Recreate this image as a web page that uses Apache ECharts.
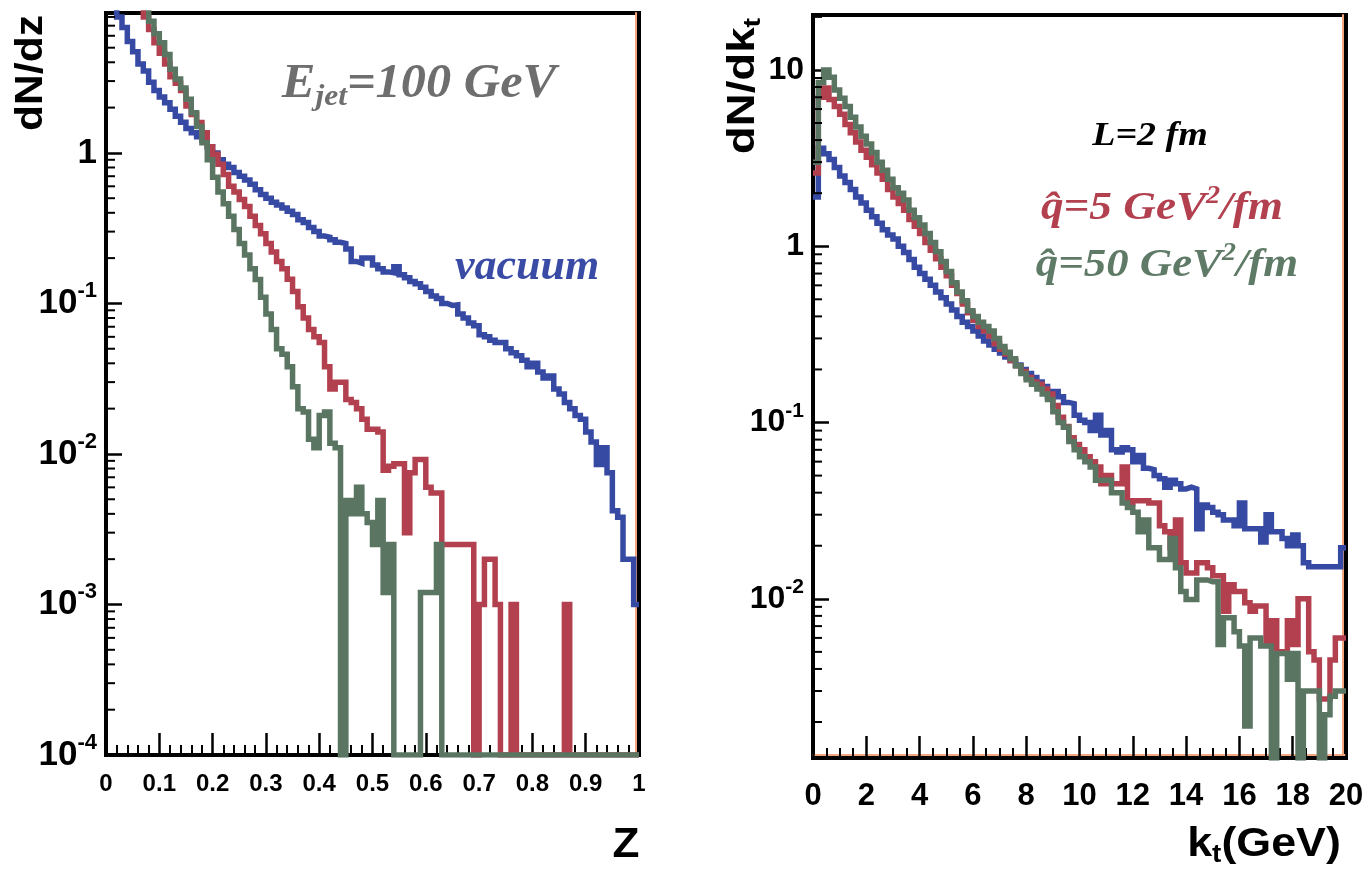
<!DOCTYPE html>
<html><head><meta charset="utf-8">
<script src="https://cdn.jsdelivr.net/npm/echarts@6/dist/echarts.min.js"></script>
<style>html,body{margin:0;padding:0;background:#fff}#c{width:1370px;height:870px}</style>
</head><body><div id="c"></div>
<script>
// ---------- data: left panel, dN/dz vs z (100 bins of 0.01) ----------
const zBinLo = 0;
const zBinWidth = 0.01;
const zVacuum = [20,12,8.0,6.8,5.5,4.7,3.9,3.5,2.95,2.6,
  2.35,2.15,1.95,1.75,1.6,1.45,1.36,1.28,1.22,1.1,
  1.0,0.9,0.84,0.8,0.74,0.7,0.66,0.62,0.57,0.53,
  0.5,0.47,0.45,0.43,0.41,0.39,0.36,0.345,0.32,0.3,
  0.28,0.275,0.265,0.255,0.25,0.23,0.19,0.185,0.2,0.2,
  0.18,0.17,0.162,0.16,0.175,0.155,0.148,0.14,0.135,0.128,
  0.12,0.112,0.108,0.1,0.097,0.098,0.085,0.08,0.074,0.071,
  0.062,0.06,0.057,0.055,0.055,0.05,0.047,0.045,0.042,0.038,
  0.04,0.035,0.032,0.033,0.027,0.025,0.022,0.02,0.018,0.017,
  0.014,0.012,0.0085,0.011,0.0075,0.0042,0.0038,0.002,0.002,0.001];
const zQhat5 = [40,30,22,17,14,11.5,9.5,8.0,6.6,5.4,
  4.6,3.9,3.2,2.9,2.6,2.05,1.8,1.59,1.36,1.1,
  0.98,0.84,0.72,0.6,0.55,0.49,0.44,0.38,0.33,0.29,
  0.25,0.22,0.19,0.17,0.145,0.12,0.095,0.08,0.067,0.06,
  0.055,0.038,0.027,0.03,0.03,0.023,0.022,0.02,0.017,0.0146,
  0.0146,0.014,0.0078,0.0083,0.0086,0.0086,0.003,0.0075,0.0092,0.0092,
  0.006,0.0055,0.0055,0.0025,0.0025,0.0025,0.0025,0.0025,0.0025,0,
  0.001,0.002,0.002,0.001,0,0,0.001,0,0,0,
  0,0,0,0,0,0,0.001,0,0,0,
  0,0,0,0,0,0,0,0,0,0];
const zQhat50 = [50,35,25,19,15,12.5,11,9.5,7.5,6.2,
  5.4,4.5,3.6,3.1,2.7,2.27,1.85,1.5,1.17,0.9,
  0.69,0.55,0.46,0.38,0.31,0.25,0.21,0.17,0.144,0.11,
  0.085,0.067,0.05,0.046,0.038,0.028,0.02,0.019,0.0125,0.011,
  0.018,0.019,0.0118,0.011,0,0.0049,0.004,0.006,0.004,0.0035,
  0.0025,0.0049,0.0012,0.0025,0,0,0,0,0,0.0012,
  0.0012,0.0012,0.0025,0,0,0,0,0,0,0,
  0,0,0,0,0,0,0,0,0,0,
  0,0,0,0,0,0,0,0,0,0,
  0,0,0,0,0,0,0,0,0,0];

// ---------- data: right panel, dN/dkt vs kt (100 bins of 0.2 GeV) ----------
const ktBinLo = 0;
const ktBinWidth = 0.2;
const ktVacuum = [1.9,3.6,3.35,3.1,2.8,2.5,2.3,2.1,1.9,1.76,
  1.6,1.47,1.35,1.24,1.16,1.1,1.0,0.92,0.84,0.76,
  0.7,0.65,0.6,0.55,0.51,0.47,0.435,0.4,0.37,0.35,
  0.33,0.31,0.29,0.275,0.26,0.248,0.235,0.225,0.212,0.2,
  0.19,0.18,0.17,0.16,0.14,0.15,0.14,0.13,0.128,0.11,
  0.103,0.1,0.09,0.11,0.085,0.09,0.07,0.068,0.072,0.07,
  0.06,0.065,0.055,0.054,0.05,0.048,0.043,0.047,0.045,0.042,
  0.043,0.042,0.025,0.034,0.033,0.031,0.03,0.028,0.028,0.026,
  0.035,0.025,0.025,0.025,0.021,0.03,0.024,0.024,0.022,0.02,
  0.023,0.02,0.016,0.0152,0.0152,0.0152,0.0152,0.0152,0.0152,0.0195];
const ktQhat5 = [2.6,7.0,7.9,6.8,6.2,5.6,4.9,4.4,3.9,3.5,
  3.2,2.9,2.6,2.4,2.1,1.9,1.75,1.6,1.42,1.3,
  1.18,1.05,0.95,0.85,0.76,0.68,0.6,0.54,0.47,0.42,
  0.38,0.35,0.33,0.31,0.28,0.26,0.245,0.225,0.21,0.195,
  0.18,0.17,0.165,0.155,0.145,0.125,0.107,0.095,0.082,0.075,
  0.07,0.064,0.06,0.056,0.045,0.05,0.045,0.045,0.056,0.035,
  0.036,0.036,0.036,0.035,0.035,0.026,0.024,0.0195,0.028,0.016,
  0.014,0.014,0.016,0.016,0.015,0.0135,0.0135,0.0085,0.012,0.011,
  0.011,0.0095,0.0085,0.0091,0.0091,0.0055,0.0075,0.005,0.005,0.0075,
  0.0055,0.01,0.01,0.005,0.0045,0.0027,0.0027,0.0045,0.006,0.006];
const ktQhat50 = [3.0,8.5,10.0,9.1,7.7,6.9,6.2,5.4,4.75,4.2,
  3.8,3.4,3.0,2.7,2.4,2.15,2.0,1.83,1.6,1.45,
  1.32,1.18,1.05,0.93,0.82,0.72,0.62,0.55,0.49,0.43,
  0.4,0.37,0.35,0.33,0.3,0.27,0.25,0.23,0.21,0.19,
  0.175,0.165,0.155,0.145,0.135,0.115,0.1,0.094,0.078,0.07,
  0.064,0.06,0.056,0.047,0.047,0.047,0.04,0.04,0.035,0.033,
  0.031,0.024,0.028,0.0195,0.0195,0.0167,0.0167,0.022,0.015,0.011,
  0.0099,0.0099,0.0128,0.0128,0.0125,0.0125,0.0055,0.0078,0.0078,0.0065,
  0.0054,0.0019,0.006,0.006,0.0054,0.0054,0,0.0049,0.0049,0.0035,
  0.0049,0,0.003,0.003,0.003,0,0.0022,0.0028,0.003,0.003];

// ---------- axis ranges ----------
const zRange = [0, 1];
const zYRange = [1e-4, 8.5];
const ktRange = [0, 20];
const ktYRange = [1.25e-3, 20.5];

const colVac = '#3649a3', colQ5 = '#b3404f', colQ50 = '#5b7563';
const SANS = "'Liberation Sans', Arial, Helvetica, sans-serif";
const SERIF = "'Liberation Serif', 'Times New Roman', serif";

function histPoints(vals, lo, w, floor) {
  const pts = [];
  for (let i = 0; i < vals.length; i++) pts.push([lo + i * w, Math.max(vals[i], floor)]);
  pts.push([lo + vals.length * w, Math.max(vals[vals.length - 1], floor)]);
  return pts;
}
function logMinorTicks(lo, hi) {
  const out = [];
  for (let d = Math.floor(Math.log10(lo)); d <= Math.ceil(Math.log10(hi)); d++) {
    for (let k = 2; k <= 9; k++) {
      const v = k * Math.pow(10, d);
      if (v > lo * 1.0001 && v < hi * 0.9999) out.push(v);
    }
  }
  return out;
}
function logLabel(v) {
  const l = Math.log10(v), e = Math.round(l);
  if (Math.abs(l - e) > 1e-6) return '';
  if (e === 0) return '{b|1}';
  if (e === 1) return '{b|10}';
  return '{b|10}{e|' + e + '}';
}
function stepSeries(name, vals, lo, w, floor, color, xi, yi) {
  return { name, type: 'line', step: 'end', xAxisIndex: xi, yAxisIndex: yi,
    data: histPoints(vals, lo, w, floor), symbol: 'none', showSymbol: false,
    lineStyle: { color, width: 5.5, join: 'miter' }, clip: true, silent: true, animation: false, z: 3 };
}
function minorTickSeries(vals, x0, xi, yi) {
  return { type: 'custom', xAxisIndex: xi, yAxisIndex: yi, silent: true, clip: false, z: 6,
    data: vals.map(v => [x0, v]),
    renderItem: (params, api) => {
      const p = api.coord([api.value(0), api.value(1)]);
      return { type: 'line', shape: { x1: p[0], y1: p[1], x2: p[0] + 9, y2: p[1] },
        style: { stroke: '#000', lineWidth: 2 } };
    } };
}
function yAxisCfg(gi, range, bSize, eSize) {
  return { type: 'log', logBase: 10, gridIndex: gi, min: range[0], max: range[1],
    axisLine: { show: true, onZero: false, lineStyle: { color: '#000', width: 4 } },
    axisTick: { show: true, inside: true, length: 16, lineStyle: { color: '#000', width: 2.5 } },
    splitLine: { show: false }, minorTick: { show: false },
    axisLabel: { margin: 9, formatter: logLabel, color: '#000',
      rich: { b: { fontSize: bSize, fontWeight: 'bold', fontFamily: SANS, color: '#000', lineHeight: bSize + 4 },
              e: { fontSize: eSize, fontWeight: 'bold', fontFamily: SANS, color: '#000', padding: [0, 0, Math.round(bSize * 0.72), 0] } } } };
}
function orangeAxis(gi, pos) {
  return { type: 'value', gridIndex: gi, position: pos, offset: -3, min: 0, max: 1,
    axisLine: { show: true, onZero: false, lineStyle: { color: '#f4a67f', width: 2 } },
    axisTick: { show: false }, axisLabel: { show: false }, splitLine: { show: false } };
}

const chart = echarts.init(document.getElementById('c'));
const serifRich = (size, color) => ({
  m: { fontSize: size, fontFamily: SERIF, fontWeight: 'bold', fontStyle: 'italic', fill: color, lineHeight: size + 16 },
  s: { fontSize: Math.round(size * 0.62), fontFamily: SERIF, fontWeight: 'bold', fontStyle: 'italic', fill: color, padding: [Math.round(size * 0.5), 0, 0, 0] },
  p: { fontSize: Math.round(size * 0.62), fontFamily: SERIF, fontWeight: 'bold', fontStyle: 'italic', fill: color, padding: [0, 0, Math.round(size * 0.62), 0] }
});
const sansRich = (size) => ({
  m: { fontSize: size, fontFamily: SANS, fontWeight: 'bold', fill: '#000', lineHeight: size + 12 },
  s: { fontSize: Math.round(size * 0.62), fontFamily: SANS, fontWeight: 'bold', fill: '#000', padding: [Math.round(size * 0.5), 0, 0, 0] }
});
function txt(x, y, text, rich, scaleX, rotation) {
  return { type: 'text', x, y, rotation: rotation || 0, scaleX: scaleX || 1, silent: true, z: 100,
    style: { text, rich, align: 'center', verticalAlign: 'middle' } };
}

const option = {
  backgroundColor: '#fff',
  animation: false,
  grid: [
    { left: 106, top: 13, width: 533, height: 742, show: true, borderColor: '#000', borderWidth: 4, backgroundColor: 'transparent' },
    { left: 813, top: 15, width: 533, height: 743, show: true, borderColor: '#000', borderWidth: 4, backgroundColor: 'transparent' }
  ],
  xAxis: [
    { type: 'value', gridIndex: 0, min: zRange[0], max: zRange[1], interval: 0.1,
      axisLine: { show: true, onZero: false, lineStyle: { color: '#000', width: 4 } },
      axisTick: { show: true, inside: true, length: 22, lineStyle: { color: '#000', width: 2.5 } },
      minorTick: { show: true, splitNumber: 5, length: 10, lineStyle: { color: '#000', width: 2 } },
      splitLine: { show: false },
      axisLabel: { margin: 17, fontSize: 24, fontWeight: 'bold', fontFamily: SANS, color: '#000',
        formatter: v => (v === 0 ? '0' : (Math.abs(v - 1) < 1e-9 ? '1' : v.toFixed(1))) } },
    { type: 'value', gridIndex: 1, min: ktRange[0], max: ktRange[1], interval: 2,
      axisLine: { show: true, onZero: false, lineStyle: { color: '#000', width: 4 } },
      axisTick: { show: true, inside: true, length: 22, lineStyle: { color: '#000', width: 2.5 } },
      minorTick: { show: true, splitNumber: 4, length: 10, lineStyle: { color: '#000', width: 2 } },
      splitLine: { show: false },
      axisLabel: { margin: 23, fontSize: 31, fontWeight: 'bold', fontFamily: SANS, color: '#000' } },
    orangeAxis(1, 'bottom')
  ],
  yAxis: [
    yAxisCfg(0, zYRange, 35, 22),
    yAxisCfg(1, ktYRange, 32, 21),
    orangeAxis(0, 'right'),
    orangeAxis(1, 'right')
  ],
  series: [
    stepSeries('vacuum', zVacuum, zBinLo, zBinWidth, zYRange[0], colVac, 0, 0),
    stepSeries('qhat=5', zQhat5, zBinLo, zBinWidth, zYRange[0], colQ5, 0, 0),
    stepSeries('qhat=50', zQhat50, zBinLo, zBinWidth, zYRange[0], colQ50, 0, 0),
    stepSeries('vacuum', ktVacuum, ktBinLo, ktBinWidth, ktYRange[0], colVac, 1, 1),
    stepSeries('qhat=5', ktQhat5, ktBinLo, ktBinWidth, ktYRange[0], colQ5, 1, 1),
    stepSeries('qhat=50', ktQhat50, ktBinLo, ktBinWidth, ktYRange[0], colQ50, 1, 1),
    minorTickSeries(logMinorTicks(zYRange[0], zYRange[1]), zRange[0], 0, 0),
    minorTickSeries(logMinorTicks(ktYRange[0], ktYRange[1]), ktRange[0], 1, 1)
  ],
  graphic: [
    txt(32, 73, '{m|dN/dz}', sansRich(38), 1.12, Math.PI / 2),
    txt(744, 86, '{m|dN/dk}{s|t}', sansRich(38), 1.2, Math.PI / 2),
    txt(626, 845, '{m|Z}', sansRich(42), 1.05),
    txt(1264, 845, '{m|k}{s|t}{m|(GeV)}', sansRich(40), 1.12),
    txt(419, 85, '{m|E}{s|jet}{m|=100 GeV}', serifRich(48, '#6e6e6e'), 1.05),
    txt(527, 268, '{m|vacuum}', serifRich(44, '#3a4ba6'), 1.0),
    txt(1150, 136, '{m|L=2 fm}', serifRich(33, '#000'), 1.15),
    txt(1162, 209, '{m|q\u0302=5 GeV}{p|2}{m|/fm}', serifRich(40, '#b3404f'), 1.13),
    txt(1167, 266, '{m|q\u0302=50 GeV}{p|2}{m|/fm}', serifRich(40, '#5f7a67'), 1.12)
  ]
};
chart.setOption(option);
</script>
</body></html>
